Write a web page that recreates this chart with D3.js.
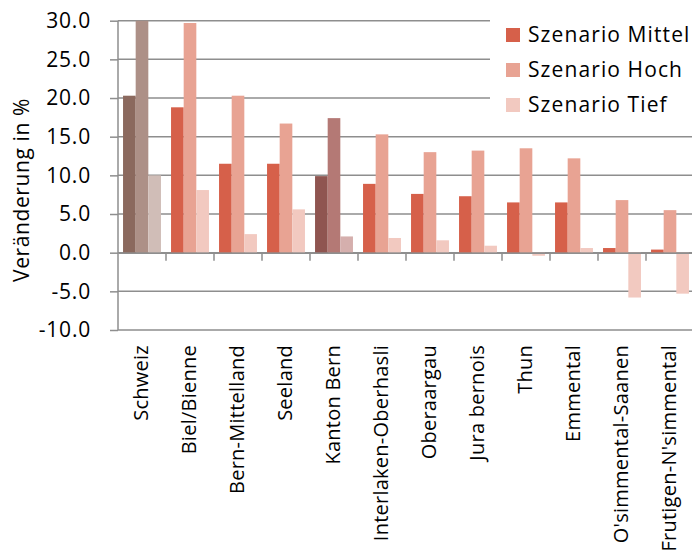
<!DOCTYPE html>
<html>
<head>
<meta charset="utf-8">
<script src="https://cdn.jsdelivr.net/npm/d3@7"></script>
<style>
  html, body { margin: 0; padding: 0; background: #fff; }
  svg { display: block; font-family: "Open Sans", "Noto Sans", sans-serif; }
</style>
</head>
<body>
<svg id="chart" width="692" height="555"></svg>
<script>
const categories = ["Schweiz", "Biel/Bienne", "Bern-Mittelland", "Seeland", "Kanton Bern",
  "Interlaken-Oberhasli", "Oberaargau", "Jura bernois", "Thun", "Emmental",
  "O'simmental-Saanen", "Frutigen-N'simmental"];
const seriesNames = ["Szenario Mittel", "Szenario Hoch", "Szenario Tief"];
const mittel = [20.3, 18.8, 11.5, 11.5, 9.9, 8.9, 7.6, 7.3, 6.5, 6.5, 0.6, 0.4];
const hoch   = [30.0, 29.7, 20.3, 16.7, 17.4, 15.3, 13.0, 13.2, 13.5, 12.2, 6.8, 5.5];
const tief   = [10.0, 8.1, 2.4, 5.6, 2.1, 1.9, 1.6, 0.9, -0.4, 0.6, -5.8, -5.3];
const yTicks = [-10, -5, 0, 5, 10, 15, 20, 25, 30];
const yTitle = "Veränderung in %";

const seriesValues = [mittel, hoch, tief];
const baseColors = ["#D6604A", "#E8A393", "#F2C9C0"];
const specialColors = {
  "Schweiz": ["#8B695E", "#AD9087", "#D0BDB7"],
  "Kanton Bern": ["#8F5550", "#B47975", "#D5AFAD"]
};

const svg = d3.select("#chart");
const mLeft = 118, mRight = 694, mTop = 20.7, mBottom = 330;
const gridColor = "#8E8E8E";

const x = d3.scaleBand().domain(categories).range([mLeft, mRight]).padding(0);
const bw = x.bandwidth();
const x1 = d3.scaleBand().domain(seriesNames).range([bw * 0.105, bw * 0.895]).padding(0);
const y = d3.scaleLinear().domain([-10, 30]).range([mBottom, mTop]);

// gridlines
svg.append("g").selectAll("line").data(yTicks).join("line")
  .attr("x1", mLeft).attr("x2", mRight)
  .attr("y1", d => y(d)).attr("y2", d => y(d))
  .attr("stroke", gridColor).attr("stroke-width", 1.5);

// bars
const rows = categories.map((c, i) => ({ cat: c, vals: seriesValues.map(s => s[i]) }));
const groups = svg.append("g").selectAll("g").data(rows).join("g")
  .attr("transform", d => `translate(${x(d.cat)},0)`);
groups.selectAll("rect").data(d => d.vals.map((v, j) => ({ cat: d.cat, v, j })))
  .join("rect")
  .attr("x", d => x1(seriesNames[d.j]))
  .attr("width", x1.bandwidth())
  .attr("y", d => Math.min(y(d.v), y(0)))
  .attr("height", d => Math.abs(y(d.v) - y(0)))
  .attr("fill", d => (specialColors[d.cat] || baseColors)[d.j]);

// y axis
const yAxis = d3.axisLeft(y).tickValues(yTicks).tickSize(8).tickPadding(19)
  .tickFormat(d => d.toFixed(1));
const ya = svg.append("g").attr("transform", `translate(${mLeft},0)`).call(yAxis);
ya.select(".domain").attr("stroke", gridColor).attr("stroke-width", 1.5).attr("d", `M0,${mTop}V${mBottom}`);
ya.selectAll(".tick line").attr("stroke", gridColor).attr("stroke-width", 1.5);
ya.selectAll(".tick text").attr("font-size", 21).attr("fill", "#000")
  .attr("font-family", "'Open Sans', sans-serif").attr("letter-spacing", 0.8);

// x axis at zero
const xAxis = d3.axisBottom(x).tickSize(0).tickFormat("");
const xa = svg.append("g").attr("transform", `translate(0,${y(0)})`).call(xAxis);
xa.select(".domain").attr("stroke", gridColor).attr("stroke-width", 1.5);
xa.selectAll(".tick").remove();
svg.append("g").selectAll("line").data(categories.slice(1)).join("line")
  .attr("x1", d => x(d)).attr("x2", d => x(d))
  .attr("y1", y(0)).attr("y2", y(0) + 8)
  .attr("stroke", gridColor).attr("stroke-width", 1.5);

// category labels
svg.append("g").selectAll("text").data(categories).join("text")
  .attr("transform", d => `translate(${x(d) + bw / 2 - 1},345) rotate(-90)`)
  .attr("text-anchor", "end")
  .attr("dy", "0.35em")
  .attr("font-size", 20)
  .attr("letter-spacing", 0.25)
  .attr("fill", "#000")
  .text(d => d);

// y title
svg.append("text")
  .attr("transform", `translate(22,190) rotate(-90)`)
  .attr("text-anchor", "middle")
  .attr("dy", "0.35em")
  .attr("font-size", 21)
  .attr("letter-spacing", 0.6)
  .attr("fill", "#000")
  .text(yTitle);

// legend
const lg = svg.append("g");
lg.append("rect").attr("x", 490).attr("y", 0).attr("width", 202).attr("height", 122).attr("fill", "#fff");
const items = lg.selectAll("g").data(seriesNames).join("g")
  .attr("transform", (d, i) => `translate(506,${35 + i * 35})`);
items.append("rect").attr("x", 0).attr("y", -7).attr("width", 14).attr("height", 14)
  .attr("fill", (d, i) => baseColors[i]);
items.append("text").attr("x", 22).attr("dy", "0.35em")
  .attr("font-size", 21).attr("letter-spacing", 1.1).attr("fill", "#000")
  .text(d => d);
</script>
</body>
</html>
